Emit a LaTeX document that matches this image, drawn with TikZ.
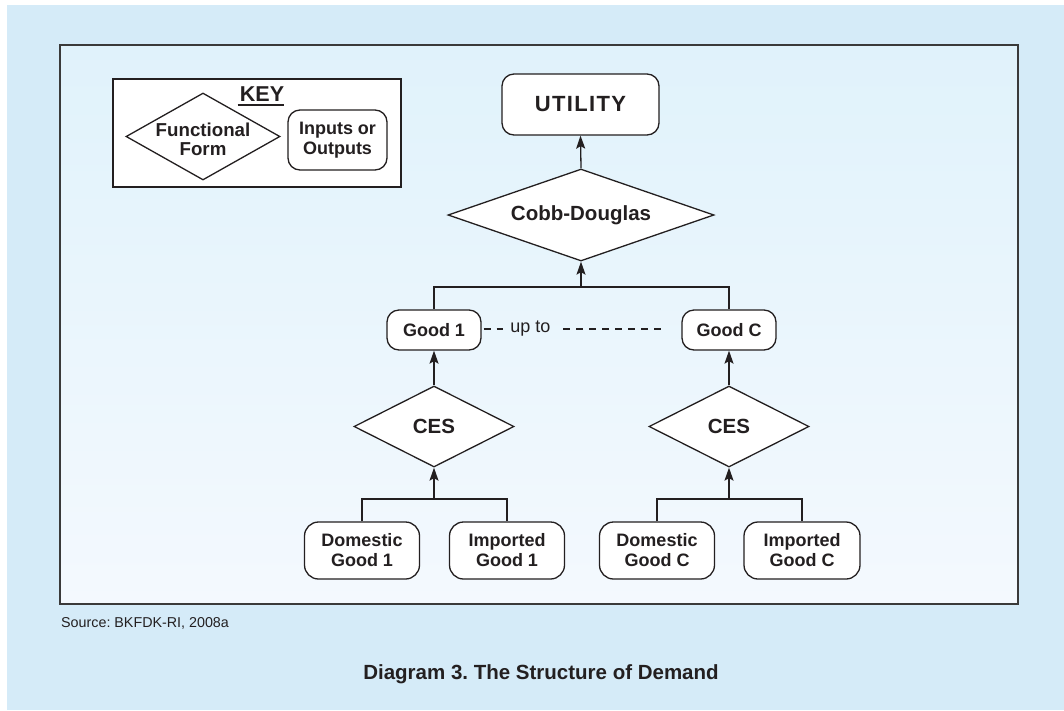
\documentclass[tikz,border=0pt]{standalone}
\usepackage{fontspec}
\setmainfont{Liberation Sans}
\usetikzlibrary{shapes.geometric,arrows.meta}
\definecolor{outerblue}{HTML}{D5EBF8}
\definecolor{innertop}{HTML}{E0F2FB}
\definecolor{innerbot}{HTML}{F4F9FE}
\definecolor{ink}{HTML}{231F20}
\definecolor{frame}{HTML}{3A3A3A}
\tikzset{
  x=1pt, y=-1pt,
  every node/.style={text=ink},
  boxnode/.style={draw=ink, fill=white, line width=1.3pt, rounded corners=12pt, align=center,
     font=\fontsize{18}{20}\selectfont\bfseries, inner sep=0pt},
  dianode/.style={draw=ink, fill=white, line width=1.3pt, diamond, inner sep=0pt,
     font=\fontsize{20.5}{20}\selectfont\bfseries},
  conn/.style={draw=ink, line width=1.3pt},
  arr/.style={conn, -{Stealth[length=13pt,width=9pt,inset=2.5pt]}},
  dashconn/.style={draw=ink, line width=1.3pt, dash pattern=on 7pt off 6pt},
}
\frenchspacing
\begin{document}
\begin{tikzpicture}
\useasboundingbox (0,0) rectangle (1064,710);
\fill[white] (0,0) rectangle (1064,710);
\fill[outerblue] (7,5) rectangle (1064,710);
% inner panel
\fill[top color=innertop, bottom color=innerbot] (60,45) rectangle (1018,604);
\draw[frame, line width=1.6pt] (60,45) rectangle (1018,604);

% key
\node[draw=ink, fill=white, line width=1.3pt, minimum width=288pt, minimum height=108pt, inner sep=0pt] (keybox) at (257,133) {};
\node[dianode, aspect=1.77, minimum width=154pt, minimum height=87pt,
  label={[font=\fontsize{18.7}{18.5}\selectfont\bfseries, align=center, yshift=-3pt, inner sep=0pt]center:Functional\\Form}] (keydia) at (203,136.5) {};
\node[anchor=base, font=\fontsize{21.5}{22}\selectfont\bfseries, inner sep=0pt] (keytitle) at (262,101.5) {KEY};
\draw[ink, line width=1.5pt] (keytitle.south west |- 0,105) ++(-2,0) coordinate (ul1) -- (keytitle.south east |- 0,105) ++(2,0) coordinate (ul2);
\node[boxnode, minimum width=99pt, minimum height=60pt] (keybox2) at (337.5,140) {Inputs or\\Outputs};

% main chart
\node[boxnode, minimum width=157pt, minimum height=61pt, font=\fontsize{22}{22}\selectfont\bfseries\addfontfeature{LetterSpace=6}] (util) at (580.5,104.5) {UTILITY};
\node[dianode, aspect=2.89, minimum width=266pt, minimum height=92pt] (cd) at (581,215) {Cobb-Douglas};

\node[boxnode, minimum width=94pt, minimum height=40pt] (g1) at (434,330) {Good 1};
\node[boxnode, minimum width=94pt, minimum height=40pt] (gc) at (729,330) {Good C};

\node[dianode, aspect=1.98, minimum width=160pt, minimum height=81pt] (ces1) at (434,426.5) {CES};
\node[dianode, aspect=1.98, minimum width=160pt, minimum height=81pt] (cesc) at (729,426.5) {CES};

\node[boxnode, minimum width=115pt, minimum height=57pt, rounded corners=14pt] (dg1) at (362,550.5) {Domestic\\Good 1};
\node[boxnode, minimum width=115pt, minimum height=57pt, rounded corners=14pt] (ig1) at (507,550.5) {Imported\\Good 1};
\node[boxnode, minimum width=115pt, minimum height=57pt, rounded corners=14pt] (dgc) at (657,550.5) {Domestic\\Good C};
\node[boxnode, minimum width=116pt, minimum height=57pt, rounded corners=14pt] (igc) at (802,550.5) {Imported\\Good C};

% connectors
\coordinate (j0) at (581,287);
\coordinate (j1) at (434,499);
\coordinate (jc) at (729,499);
\draw[arr] (cd.north) -- (util.south);
\draw[conn] (g1.north) |- (j0) -| (gc.north);
\draw[arr] (j0) -- (cd.south);
\draw[arr] (ces1.north) -- (g1.south);
\draw[arr] (cesc.north) -- (gc.south);
\draw[conn] (dg1.north) |- (j1) -| (ig1.north);
\draw[arr] (j1) -- (ces1.south);
\draw[conn] (dgc.north) |- (jc) -| (igc.north);
\draw[arr] (jc) -- (cesc.south);

% dashed "up to"
\node[font=\fontsize{18}{18}\selectfont, inner sep=0pt] (upto) at (530.5,329) {up to};
\coordinate (d1) at (503,329);
\coordinate (d2) at (563,329);
\draw[dashconn] (g1.east |- d1) ++(2,0) -- (d1);
\draw[dashconn] (d2) -- ([xshift=-15pt]gc.west |- d2);

% texts
\node[anchor=west, font=\fontsize{14.3}{15}\selectfont, inner sep=0pt] (src) at (61,623) {Source: BKFDK-RI, 2008a};
\node[anchor=base, font=\fontsize{20.5}{21}\selectfont\bfseries, inner sep=0pt] (cap) at (541,679) {Diagram 3. The Structure of Demand};
\end{tikzpicture}
\end{document}
